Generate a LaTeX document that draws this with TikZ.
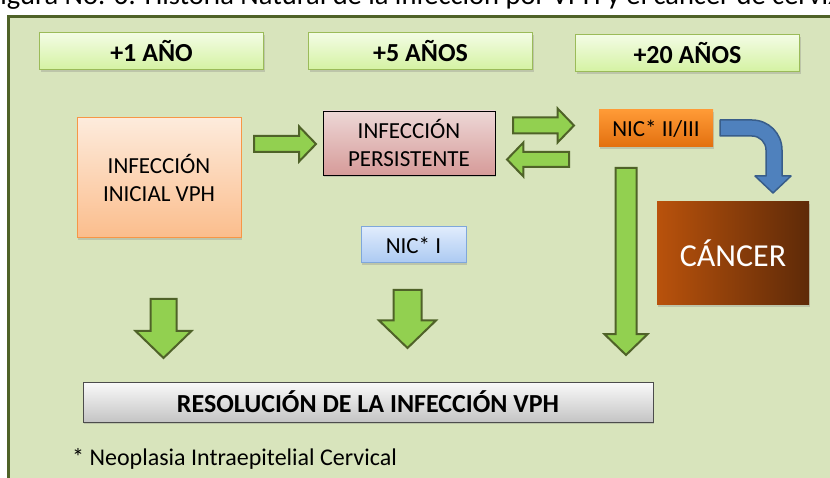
\documentclass[tikz,border=0pt]{standalone}
\usepackage{fontspec}
\setmainfont{Carlito}
\usetikzlibrary{shapes.arrows,shadows}

\definecolor{fondo}{HTML}{D8E4BC}
\definecolor{marco}{HTML}{4F6228}
\definecolor{aniotop}{HTML}{F3FCE4}
\definecolor{aniobot}{HTML}{D4F2A2}
\definecolor{anioborde}{HTML}{9BBB59}
\definecolor{initop}{HTML}{FDEBDC}
\definecolor{inibot}{HTML}{FBBD8C}
\definecolor{iniborde}{HTML}{F79646}
\definecolor{pertop}{HTML}{EDD7D6}
\definecolor{perbot}{HTML}{D69B99}
\definecolor{nictop}{HTML}{FF9A36}
\definecolor{nicbot}{HTML}{E2700F}
\definecolor{cancizq}{HTML}{B9520C}
\definecolor{cancder}{HTML}{5E2A08}
\definecolor{azultop}{HTML}{E0ECFC}
\definecolor{azulbot}{HTML}{ABC9F2}
\definecolor{azulborde}{HTML}{7FA7DB}
\definecolor{restop}{HTML}{FAFAFA}
\definecolor{resbot}{HTML}{C4C4C4}
\definecolor{flecha}{HTML}{92D050}
\definecolor{flechaborde}{HTML}{4F6228}
\definecolor{azul}{HTML}{4F81BD}
\definecolor{azulosc}{HTML}{385D8A}

\begin{document}
\begin{tikzpicture}[x=1pt,y=-1pt]

    \tikzset{
      sombra/.style={drop shadow={shadow xshift=1pt, shadow yshift=-2pt, opacity=.3}},
      anio/.style={
        draw=anioborde,
        line width=1pt,
        top color=aniotop,
        bottom color=aniobot,
        sombra,
        minimum width=224pt,
        minimum height=37pt,
        inner sep=0pt,
        font=\fontsize{26}{30}\selectfont\bfseries,
      },
      caja/.style={
        line width=1pt,
        sombra,
        inner sep=0pt,
        align=center,
        font=\fontsize{23}{28}\selectfont,
      },
      verde/.style={
        single arrow,
        draw=flechaborde,
        fill=flecha,
        line width=2pt,
        single arrow tip angle=92,
        anchor=tail,
      },
    }
    \useasboundingbox (0,0) rectangle (830,478);
    \clip (0,0) rectangle (830,478);
	\node[anchor=base west, inner sep=0pt, font=\fontsize{28.5}{32}\selectfont] (titulo) at (-13,5) {Figura No. 6: Historia Natural de la infección por VPH y el cáncer de cérvix};
	\draw[fill=fondo, draw=marco, line width=3pt] (8,17) rectangle (850,495);

	\node[anio] (anio1) at (151.5,51.5) {+1 AÑO};
	\node[anio] (anio5) at (420.5,51.5) {+5 AÑOS};
	\node[anio] (anio20) at (687.5,53.5) {+20 AÑOS};

	\node[caja, draw=iniborde, top color=initop, bottom color=inibot, minimum width=164pt, minimum height=120pt] (inicial) at (159,178) {INFECCIÓN\\INICIAL VPH};
	\node[caja, draw=black, line width=.8pt, top color=pertop, bottom color=perbot, minimum width=172pt, minimum height=64pt] (persist) at (409,143) {INFECCIÓN\\PERSISTENTE};
	\node[caja, draw=none, top color=nictop, bottom color=nicbot, minimum width=114pt, minimum height=37pt] (nic23) at (656,128.5) {NIC* II/III};
	\node[caja, draw=none, left color=cancizq, right color=cancder, minimum width=152pt, minimum height=103pt, text=white, font=\fontsize{32}{36}\selectfont] (cancer) at (733,253.5) {CÁNCER};
	\node[caja, draw=azulborde, top color=azultop, bottom color=azulbot, minimum width=105pt, minimum height=36pt] (nic1) at (413.5,245) {NIC* I};
	\node[caja, draw=black!70, top color=restop, bottom color=resbot, minimum width=570pt, minimum height=40pt, font=\fontsize{26}{30}\selectfont\bfseries] (resol) at (368,402) {RESOLUCIÓN DE LA INFECCIÓN VPH};
	\node[anchor=base west, inner sep=0pt, font=\fontsize{24}{28}\selectfont] (nota) at (72,465) {* Neoplasia Intraepitelial Cervical};

	% flechas verdes
	\node[verde, shape border rotate=0, minimum height=62pt, inner sep=7pt, single arrow head extend=9.5pt] (f1) at (253,144) {};
	\node[verde, shape border rotate=0, minimum height=61pt, inner sep=7pt, single arrow head extend=9pt] (f2) at (512,125.5) {};
	\node[verde, shape border rotate=180, minimum height=62pt, inner sep=6.5pt, single arrow head extend=9.5pt] (f3) at (570,159.5) {};
	\node[verde, shape border rotate=270, minimum height=59pt, inner sep=12pt, single arrow head extend=15pt] (f4) at (163.5,298) {};
	\node[verde, shape border rotate=270, minimum height=58pt, inner sep=13pt, single arrow head extend=14.5pt] (f5) at (407.5,289) {};
	\node[verde, shape border rotate=270, minimum height=187pt, inner sep=9.5pt, single arrow head extend=11pt] (f6) at (626,167) {};

	% flecha azul
	\draw[fill=azul, draw=azulosc, line width=1.5pt, line join=round] (720,120) -- (752,120) .. controls (768.6,120) and (782,133.4) .. (782,150) -- (782,176) -- (791,176) -- (773,193) -- (755,176) -- (766,176) -- (766,150) .. controls (766,142.3) and (759.7,136) .. (752,136) -- (720,136) -- cycle;

\end{tikzpicture}
\end{document}
